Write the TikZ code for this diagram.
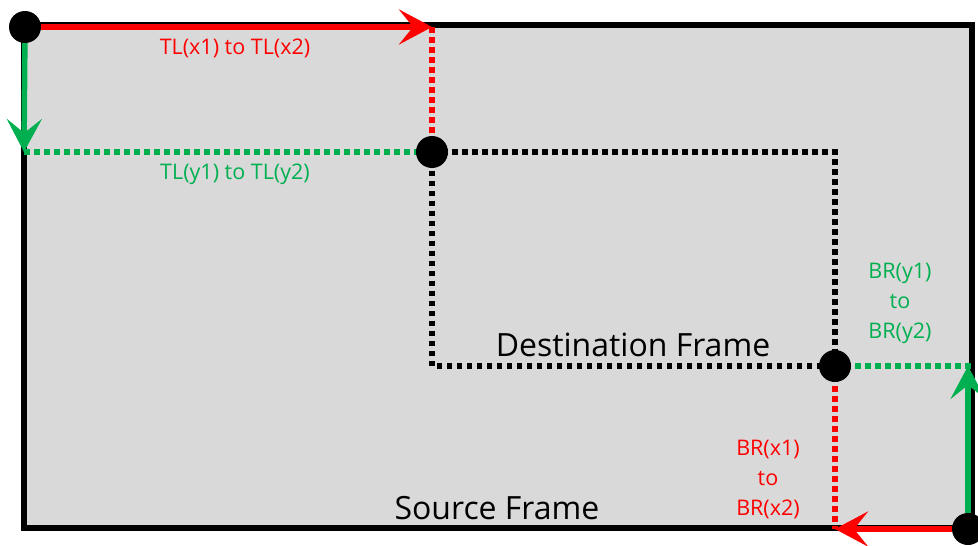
\documentclass[tikz,border=0pt]{standalone}
\usepackage{fontspec}
\setmainfont{Open Sans}
\usetikzlibrary{arrows.meta}
\definecolor{frameGrey}{HTML}{D9D9D9}
\definecolor{offRed}{HTML}{FF0000}
\definecolor{offGreen}{HTML}{00B050}
\tikzset{
  dot/.style={circle, fill=black, inner sep=0pt, minimum size=32pt},
  dots/.style={line width=6pt, dash pattern=on 5.5pt off 4.5pt},
  solidline/.style={line width=5.5pt},
  bigarrow/.style={-{Stealth[length=33pt, width=35pt, inset=14pt]}},
  lbl/.style={font=\fontsize{21.5}{30}\selectfont, align=center, inner sep=0pt},
  title/.style={font=\fontsize{32}{36}\selectfont, inner sep=0pt},
}
\begin{document}
\begin{tikzpicture}[x=1pt, y=-1pt]
\useasboundingbox (0,0) rectangle (978,546);
% source frame
\draw[fill=frameGrey, line width=6pt] (24,25) rectangle (972,528);
% corner points
\coordinate (srcL) at (24,152);
\coordinate (topX) at (432,27);
\coordinate (srcR) at (972,366);
\coordinate (upY) at (968,366);
\coordinate (botX) at (835,529);
\coordinate (dTR) at (835,152);
\coordinate (dBL) at (432,366);
% destination frame
\draw[dots] (432,152) -- (dTR) -- (835,366) -- (dBL) -- cycle;
% offset guides
\draw[dots, offRed] (topX) -- (432,152);
\draw[dots, offGreen] (srcL) -- (432,152);
\draw[dots, offGreen] (835,366) -- (srcR);
\draw[dots, offRed] (835,366) -- (botX);
% dots
\node[dot] (tl) at (25,27) {};
\node[dot] (dtl) at (432,152) {};
\node[dot] (dbr) at (835,366) {};
\node[dot] (br) at (968,529) {};
% arrows
\draw[solidline, offRed, bigarrow] (tl) -- (topX);
\draw[solidline, offGreen, bigarrow] (tl) -- (srcL);
\draw[solidline, offGreen, bigarrow] (br) -- (upY);
\draw[solidline, offRed, bigarrow] (br) -- (botX);
% labels
\node[lbl, text=offRed] (lx) at (235,48) {TL(x1) to TL(x2)};
\node[lbl, text=offGreen] (ly) at (235,174) {TL(y1) to TL(y2)};
\node[lbl, text=offGreen] (rby) at (900,303) {BR(y1)\\to\\BR(y2)};
\node[lbl, text=offRed] (rbx) at (768,480) {BR(x1)\\to\\BR(x2)};
\node[title] (dest) at (633,345) {Destination Frame};
\node[title] (src) at (497,508) {Source Frame};
\end{tikzpicture}
\end{document}
